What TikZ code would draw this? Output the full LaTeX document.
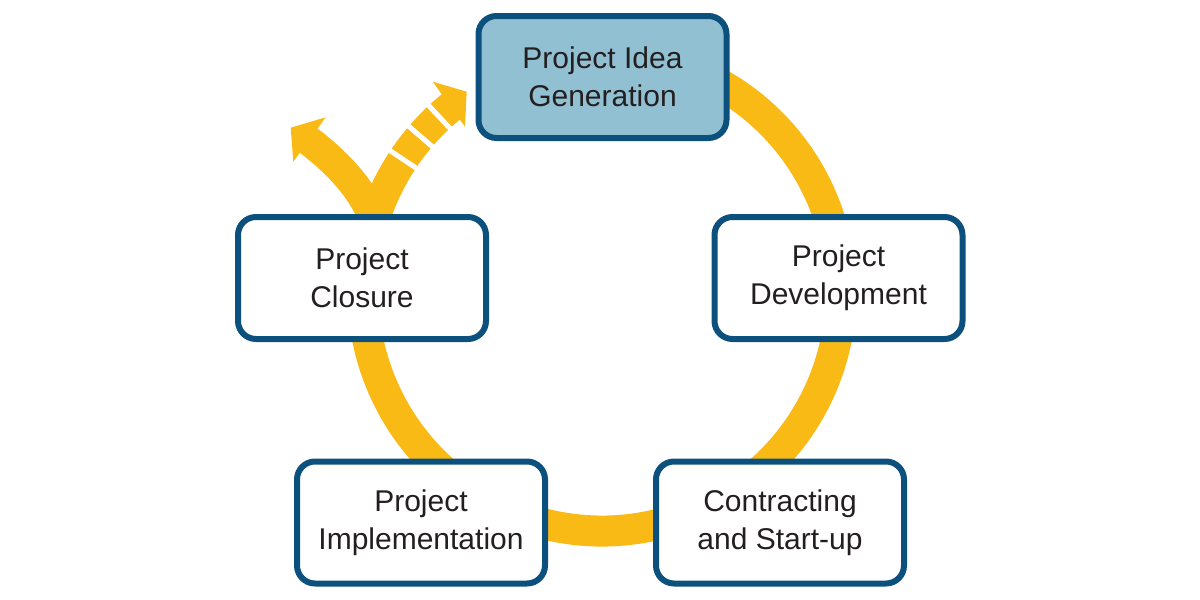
\documentclass[tikz,border=0pt]{standalone}
\usepackage{fontspec}
\setmainfont{Liberation Sans}
\usetikzlibrary{calc}
\definecolor{ringyellow}{RGB}{250,186,22}
\definecolor{boxblue}{RGB}{12,80,125}
\definecolor{ideafill}{RGB}{146,192,211}
\definecolor{txt}{RGB}{35,31,32}
\begin{document}
\begin{tikzpicture}[x=1pt,y=1pt,
  ring/.style={draw=ringyellow, line width=31pt, line cap=butt},
  gap/.style={draw=white, line width=5pt},
  head/.style={fill=ringyellow},
  stage/.style={draw=boxblue, line width=6pt, rounded corners=18pt, fill=white,
    minimum width=248pt, minimum height=122pt, inner sep=0pt, align=center,
    text=txt, font=\fontsize{30}{38}\selectfont}]
\useasboundingbox (0,0) rectangle (1200,-600);
\coordinate (C) at (602,-292);
% main cycle ring
\draw[ring] ($(C)+(70:239)$) arc[start angle=70, end angle=-231.2, radius=239];
% white gaps of the dashed part
\foreach \a in {146.3,139.4,132.9}
  \draw[gap] ($(C)+(\a:218)$) -- ($(C)+(\a:261)$);
% arrowhead back to idea generation
\coordinate (h1a) at (432.7,-81.7);
\coordinate (h1t) at (466.7,-91.7);
\coordinate (h1b) at (465,-126.7);
\fill[head] (h1a) -- (h1t) -- (h1b) -- cycle;
% branch leaving the cycle (closure exit)
\coordinate (bs) at (380,-240);
\coordinate (be) at (306.5,-139);
\draw[ring, line width=30pt] (bs) .. controls (372,-200) and (345,-168) .. (be);
\coordinate (h2a) at (325.7,-117.3);
\coordinate (h2t) at (290.7,-127.7);
\coordinate (h2b) at (293.3,-161.7);
\fill[head] (h2a) -- (h2t) -- (h2b) -- cycle;
% stages
\node[stage, fill=ideafill] (idea) at (602.5,-77) {Project Idea\\Generation};
\node[stage] (dev) at (838.5,-278) {Project\\Development};
\node[stage] (start) at (780,-522.5) {Contracting\\and Start-up};
\node[stage] (impl) at (421,-522.5) {Project\\Implementation};
\node[stage] (closure) at (362,-278) {Project\\Closure};
\end{tikzpicture}
\end{document}
